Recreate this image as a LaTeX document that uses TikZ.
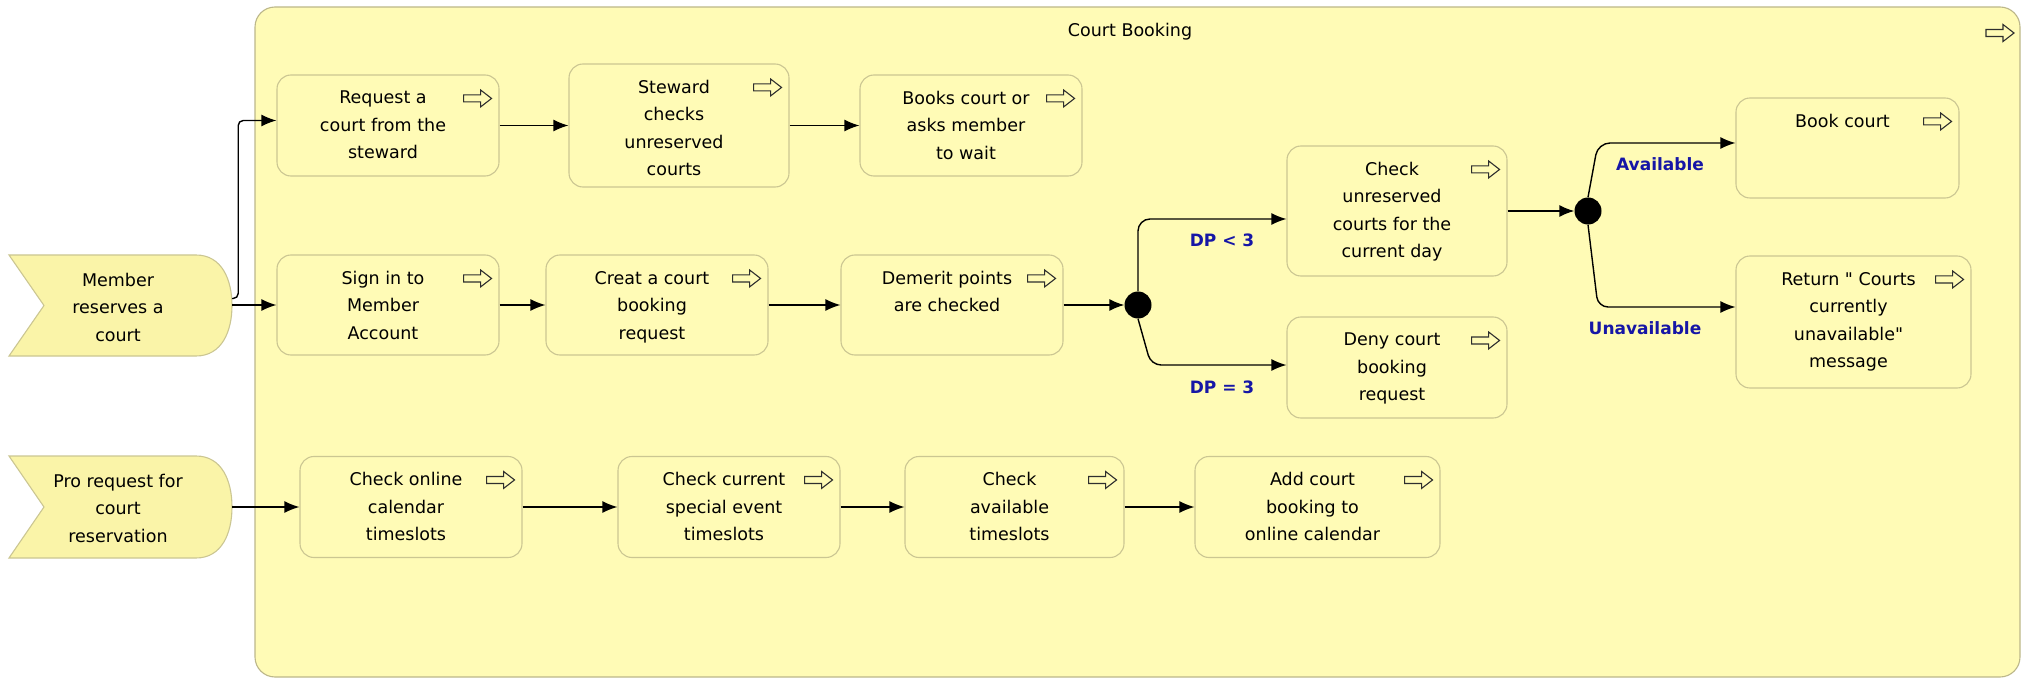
\documentclass[tikz,border=0pt]{standalone}
\usepackage{fontspec}
\setmainfont{DejaVu Sans}[Ligatures=TeXOff]
\usetikzlibrary{arrows.meta,calc}

\definecolor{paper}{HTML}{FFFBB6}
\definecolor{laneedge}{HTML}{BCB78A}
\definecolor{boxedge}{HTML}{CBC692}
\definecolor{eventfill}{HTML}{FAF4A8}
\definecolor{guard}{HTML}{1616A6}
\definecolor{iconink}{HTML}{2E2E2E}

\tikzset{
  activity/.style={draw=boxedge, fill=paper, line width=1.1pt, rounded corners=14pt, inner sep=0pt},
  tasktext/.style={align=center, inner sep=0pt, font=\fontsize{17.5}{27.5}\selectfont},
  eventshape/.style={draw=boxedge, fill=eventfill, line width=1.1pt},
  flow/.style={draw=black, line width=1.4pt, -{Latex[length=15pt,width=12pt]}},
  gate/.style={circle, fill=black, inner sep=0pt, minimum size=27pt},
  guardlabel/.style={text=guard, inner sep=0pt, font=\fontsize{17}{20}\selectfont\bfseries},
  flag/.pic={\draw[iconink, line width=1.1pt, line join=miter]
    (-14,-3.5) -- (3,-3.5) -- (3,-8.5) -- (14,0) -- (3,8.5) -- (3,3.5) -- (-14,3.5) -- cycle;}
}

% activity box: name, centre x, centre y, width, height, text
\newcommand\activitybox[6]{%
  \node[activity, minimum width=#4pt, minimum height=#5pt] (#1) at (#2,#3) {};
  \node[tasktext, anchor=north] (#1-text) at ([xshift=-5pt, yshift=-16.5pt]#1.north) {#6};
  \pic at ([xshift=-22pt, yshift=-24pt]#1.north east) {flag};
}

\begin{document}
\begin{tikzpicture}[x=1pt, y=-1pt]
\useasboundingbox (0,0) rectangle (2022,679);

% swimlane
\node[draw=laneedge, fill=paper, line width=1.1pt, rounded corners=20pt,
      minimum width=1765pt, minimum height=670pt, inner sep=0pt] (lane) at (1137.5,342) {};
\node[tasktext] (lane-title) at (1130,32) {Court Booking};
\pic at (2000,33) {flag};

% start events
\node[minimum width=223pt, minimum height=101pt, inner sep=0pt] (member) at (120.5,305.5) {};
\draw[eventshape] (9,255) -- (196,255) .. controls (222,255) and (232,280) .. (232,305.5)
  .. controls (232,331) and (222,356) .. (196,356) -- (9,356) -- (44,305.5) -- cycle;
\node[tasktext] (member-text) at (118,307) {Member\\reserves a\\court};

\node[minimum width=223pt, minimum height=102pt, inner sep=0pt] (pro) at (120.5,507) {};
\draw[eventshape] (9,456) -- (196,456) .. controls (222,456) and (232,481) .. (232,507)
  .. controls (232,533) and (222,558) .. (196,558) -- (9,558) -- (44,507) -- cycle;
\node[tasktext] (pro-text) at (118,508) {Pro request for\\court\\reservation};

% activities
\activitybox{request}{388}{125.5}{222}{101}{Request a\\court from the\\steward}
\activitybox{steward}{679}{125.5}{220}{123}{Steward\\checks\\unreserved\\courts}
\activitybox{books}{971}{125.5}{222}{101}{Books court or\\asks member\\to wait}
\activitybox{signin}{388}{305}{222}{100}{Sign in to\\Member\\Account}
\activitybox{creat}{657}{305}{222}{100}{Creat a court\\booking\\request}
\activitybox{demerit}{952}{305}{222}{100}{Demerit points\\are checked}
\activitybox{checkunres}{1397}{211}{220}{130}{Check\\unreserved\\courts for the\\current day}
\activitybox{deny}{1397}{367.5}{220}{101}{Deny court\\booking\\request}
\activitybox{bookcourt}{1847.5}{148}{223}{100}{Book court}
\activitybox{return}{1853.5}{322}{235}{132}{Return " Courts\\currently\\unavailable"\\message}
\activitybox{checkonline}{411}{507}{222}{101}{Check online\\calendar\\timeslots}
\activitybox{checkcurrent}{729}{507}{222}{101}{Check current\\special event\\timeslots}
\activitybox{checkavail}{1014.5}{507}{219}{101}{Check\\available\\timeslots}
\activitybox{addcourt}{1317.5}{507}{245}{101}{Add court\\booking to\\online calendar}

% decision points
\node[gate] (gate1) at (1138,305) {};
\node[gate] (gate2) at (1588,211) {};

% guard labels
\node[guardlabel] (dp-lt) at (1222,240) {DP < 3};
\node[guardlabel] (dp-eq) at (1222,387) {DP = 3};
\node[guardlabel] (avail) at (1660,164) {Available};
\node[guardlabel] (unavail) at (1645,328) {Unavailable};

% member flow
\draw[flow, rounded corners=5pt] ([yshift=7pt]member.east) -- ++(6,0) |- ([yshift=5pt]request.west);
\draw[flow] (member.east |- signin.west) -- (signin.west);
\draw[flow] (request.east) -- (steward.west);
\draw[flow] (steward.east) -- (books.west);
\draw[flow] (signin.east) -- (creat.west);
\draw[flow] (creat.east) -- (demerit.west);
\draw[flow] (demerit.east) -- (gate1.west);
\draw[flow, rounded corners=12pt] (gate1.north) |- ([yshift=-8pt]checkunres.west);
\draw[flow, rounded corners=10pt] (gate1.south) -- (1151,365) -- ([yshift=2.5pt]deny.west);
\draw[flow] (checkunres.east) -- (gate2.west);
\draw[flow, rounded corners=12pt] (gate2.north) -- (1598,143) -- ([yshift=5pt]bookcourt.west);
\draw[flow, rounded corners=10pt] (gate2.south) -- (1598,307) -- ([yshift=15pt]return.west);

% pro flow
\draw[flow] (pro.east) -- (checkonline.west);
\draw[flow] (checkonline.east) -- (checkcurrent.west);
\draw[flow] (checkcurrent.east) -- (checkavail.west);
\draw[flow] (checkavail.east) -- (addcourt.west);
\end{tikzpicture}
\end{document}
